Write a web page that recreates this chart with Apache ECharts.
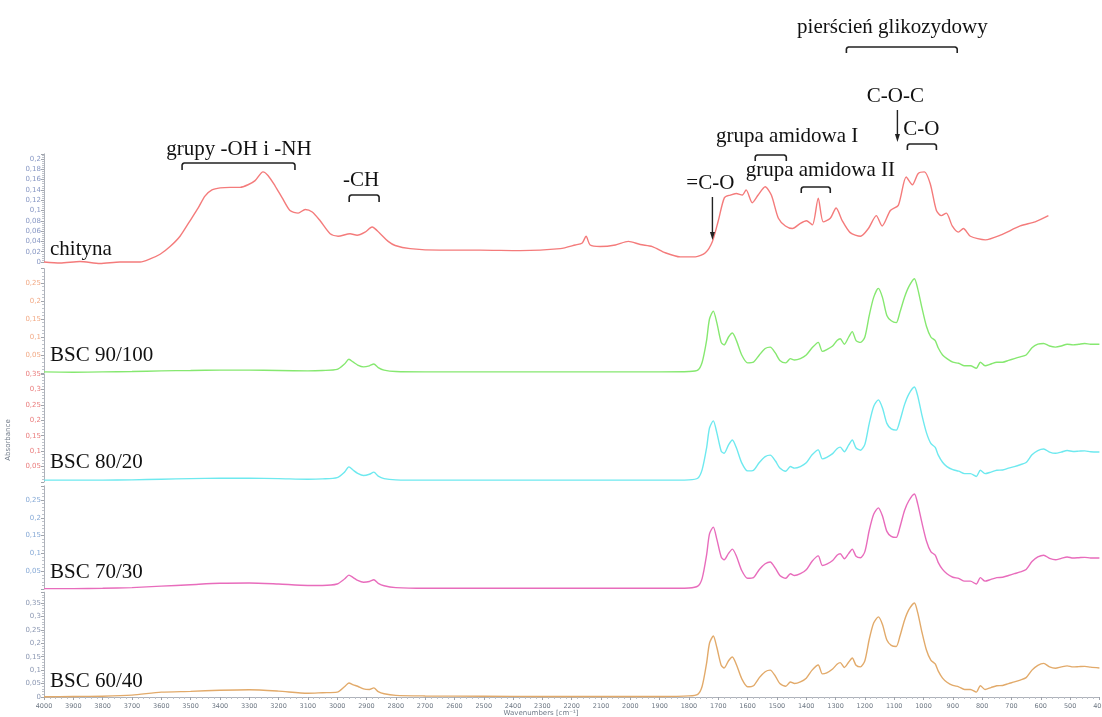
<!DOCTYPE html>
<html>
<head>
<meta charset="utf-8">
<script src="https://cdn.jsdelivr.net/npm/echarts/dist/echarts.min.js"></script>
<style>
  html, body { margin: 0; padding: 0; background: #ffffff; }
  #chart { width: 1102px; height: 717px; }
</style>
</head>
<body>
<div id="chart"></div>
<script>
// FTIR spectra: [wavenumber cm-1, absorbance]
const chityna = [
  [4000,0.000],[3945,-0.002],[3877,0.001],[3809,-0.003],[3741,0.000],[3672,0.000],[3638,0.006],
  [3604,0.015],[3570,0.030],[3536,0.050],[3502,0.080],[3474,0.105],[3451,0.128],[3427,0.140],
  [3399,0.144],[3365,0.145],[3331,0.145],[3304,0.150],[3280,0.158],[3253,0.175],[3236,0.168],
  [3212,0.148],[3188,0.125],[3161,0.100],[3133,0.095],[3109,0.102],[3085,0.097],[3058,0.080],
  [3024,0.055],[2997,0.050],[2956,0.055],[2932,0.052],[2905,0.058],[2881,0.068],[2853,0.055],
  [2826,0.040],[2802,0.032],[2751,0.026],[2649,0.023],[2512,0.023],[2376,0.022],[2239,0.026],
  [2188,0.033],[2164,0.037],[2151,0.050],[2137,0.033],[2103,0.030],[2051,0.033],[2007,0.040],
  [1966,0.034],[1925,0.030],[1881,0.018],[1830,0.010],[1778,0.010],[1744,0.018],[1720,0.040],
  [1700,0.080],[1679,0.125],[1659,0.130],[1639,0.133],[1618,0.130],[1605,0.140],[1584,0.115],
  [1564,0.130],[1540,0.146],[1519,0.130],[1495,0.085],[1471,0.070],[1447,0.065],[1420,0.075],
  [1399,0.080],[1379,0.072],[1359,0.124],[1342,0.078],[1318,0.085],[1298,0.105],[1277,0.080],
  [1250,0.057],[1215,0.050],[1188,0.065],[1161,0.090],[1141,0.070],[1113,0.100],[1086,0.110],
  [1059,0.165],[1038,0.150],[1018,0.172],[997,0.175],[977,0.152],[956,0.100],[939,0.090],
  [922,0.095],[902,0.070],[881,0.058],[864,0.065],[840,0.050],[789,0.043],[738,0.052],
  [670,0.070],[619,0.078],[574,0.090]
];

const bsc90_100 = [
  [4000,0.003],[3900,0.002],[3800,0.003],[3700,0.004],[3600,0.006],[3500,0.007],[3400,0.008],
  [3300,0.008],[3200,0.007],[3100,0.006],[3050,0.007],[3000,0.010],[2975,0.025],[2960,0.038],
  [2945,0.030],[2930,0.022],[2910,0.017],[2890,0.020],[2875,0.025],[2860,0.015],[2840,0.008],
  [2800,0.004],[2700,0.003],[2500,0.003],[2300,0.003],[2100,0.003],[1900,0.003],[1800,0.004],
  [1770,0.008],[1755,0.030],[1740,0.090],[1730,0.150],[1717,0.172],[1705,0.140],[1690,0.085],
  [1680,0.078],[1665,0.100],[1652,0.111],[1638,0.090],[1620,0.050],[1600,0.028],[1580,0.030],
  [1560,0.050],[1540,0.068],[1523,0.072],[1505,0.055],[1490,0.035],[1470,0.028],[1454,0.040],
  [1440,0.036],[1420,0.040],[1400,0.050],[1380,0.070],[1359,0.085],[1345,0.060],[1330,0.065],
  [1310,0.075],[1295,0.090],[1284,0.095],[1270,0.080],[1255,0.100],[1243,0.115],[1230,0.090],
  [1215,0.085],[1200,0.100],[1185,0.160],[1170,0.210],[1154,0.235],[1140,0.210],[1125,0.160],
  [1110,0.145],[1093,0.140],[1080,0.170],[1065,0.210],[1050,0.240],[1031,0.262],[1020,0.235],
  [1005,0.180],[990,0.130],[975,0.100],[960,0.090],[950,0.070],[935,0.050],[920,0.040],
  [900,0.030],[880,0.027],[860,0.020],[840,0.020],[820,0.013],[806,0.030],[790,0.020],
  [770,0.025],[750,0.030],[730,0.030],[710,0.035],[690,0.040],[670,0.045],[650,0.050],
  [630,0.070],[610,0.080],[590,0.082],[570,0.075],[550,0.072],[530,0.075],[510,0.080],
  [490,0.078],[470,0.080],[450,0.082],[430,0.080],[400,0.080]
];

const bsc80_20 = [
  [4000,0.006],[3900,0.006],[3800,0.006],[3700,0.007],[3600,0.009],[3500,0.011],[3400,0.012],
  [3300,0.012],[3200,0.011],[3100,0.009],[3050,0.010],[3000,0.014],[2975,0.032],[2960,0.049],
  [2945,0.038],[2930,0.028],[2910,0.021],[2890,0.025],[2875,0.032],[2860,0.019],[2840,0.011],
  [2800,0.007],[2700,0.006],[2500,0.006],[2300,0.006],[2100,0.006],[1900,0.006],[1800,0.007],
  [1770,0.012],[1755,0.040],[1740,0.110],[1730,0.175],[1717,0.198],[1705,0.160],[1690,0.100],
  [1680,0.093],[1665,0.120],[1652,0.136],[1638,0.110],[1620,0.062],[1600,0.036],[1580,0.038],
  [1560,0.063],[1540,0.082],[1523,0.087],[1505,0.068],[1490,0.045],[1470,0.035],[1454,0.050],
  [1440,0.045],[1420,0.050],[1400,0.062],[1380,0.088],[1359,0.104],[1345,0.075],[1330,0.080],
  [1310,0.092],[1295,0.108],[1284,0.113],[1270,0.098],[1255,0.120],[1243,0.136],[1230,0.110],
  [1215,0.103],[1200,0.122],[1185,0.190],[1170,0.245],[1154,0.266],[1140,0.240],[1125,0.190],
  [1110,0.172],[1093,0.168],[1080,0.200],[1065,0.250],[1050,0.285],[1031,0.308],[1020,0.280],
  [1005,0.215],[990,0.160],[975,0.125],[960,0.112],[950,0.088],[935,0.064],[920,0.050],
  [900,0.040],[880,0.035],[860,0.027],[840,0.027],[820,0.018],[806,0.038],[790,0.027],
  [770,0.032],[750,0.038],[730,0.039],[710,0.045],[690,0.050],[670,0.056],[650,0.063],
  [630,0.088],[610,0.102],[590,0.107],[570,0.097],[550,0.093],[530,0.097],[510,0.102],
  [490,0.099],[470,0.100],[450,0.101],[430,0.098],[400,0.097]
];

const bsc70_30 = [
  [4000,0.001],[3900,0.001],[3800,0.002],[3700,0.004],[3600,0.008],[3500,0.012],[3400,0.016],
  [3300,0.017],[3200,0.014],[3100,0.010],[3050,0.010],[3000,0.014],[2975,0.028],[2960,0.039],
  [2945,0.032],[2930,0.024],[2910,0.019],[2890,0.021],[2875,0.026],[2860,0.016],[2840,0.009],
  [2800,0.004],[2700,0.002],[2500,0.002],[2300,0.002],[2100,0.002],[1900,0.002],[1800,0.003],
  [1770,0.008],[1755,0.030],[1740,0.095],[1730,0.155],[1717,0.174],[1705,0.140],[1690,0.090],
  [1680,0.082],[1665,0.100],[1652,0.112],[1638,0.092],[1620,0.052],[1600,0.030],[1580,0.032],
  [1560,0.055],[1540,0.071],[1523,0.076],[1505,0.058],[1490,0.038],[1470,0.030],[1454,0.043],
  [1440,0.038],[1420,0.043],[1400,0.054],[1380,0.078],[1359,0.093],[1345,0.066],[1330,0.070],
  [1310,0.080],[1295,0.095],[1284,0.099],[1270,0.085],[1255,0.100],[1243,0.112],[1230,0.092],
  [1215,0.088],[1200,0.105],[1185,0.165],[1170,0.210],[1154,0.228],[1140,0.205],[1125,0.162],
  [1110,0.148],[1093,0.145],[1080,0.175],[1065,0.220],[1050,0.248],[1031,0.267],[1020,0.240],
  [1005,0.185],[990,0.135],[975,0.105],[960,0.095],[950,0.075],[935,0.055],[920,0.043],
  [900,0.033],[880,0.030],[860,0.022],[840,0.022],[820,0.014],[806,0.032],[790,0.022],
  [770,0.027],[750,0.032],[730,0.033],[710,0.038],[690,0.043],[670,0.048],[650,0.055],
  [630,0.077],[610,0.090],[590,0.095],[570,0.086],[550,0.082],[530,0.086],[510,0.090],
  [490,0.087],[470,0.088],[450,0.089],[430,0.087],[400,0.087]
];

const bsc60_40 = [
  [4000,0.001],[3900,0.002],[3800,0.003],[3700,0.007],[3600,0.018],[3500,0.021],[3400,0.025],
  [3300,0.027],[3200,0.022],[3100,0.014],[3050,0.016],[3000,0.018],[2975,0.038],[2960,0.052],
  [2945,0.045],[2930,0.040],[2910,0.030],[2890,0.028],[2875,0.034],[2860,0.020],[2840,0.012],
  [2800,0.006],[2700,0.004],[2500,0.003],[2300,0.002],[2100,0.002],[1900,0.002],[1800,0.004],
  [1770,0.010],[1755,0.040],[1740,0.125],[1730,0.200],[1717,0.227],[1705,0.185],[1690,0.118],
  [1680,0.108],[1665,0.135],[1652,0.149],[1638,0.120],[1620,0.068],[1600,0.038],[1580,0.042],
  [1560,0.072],[1540,0.094],[1523,0.100],[1505,0.077],[1490,0.050],[1470,0.040],[1454,0.056],
  [1440,0.050],[1420,0.056],[1400,0.070],[1380,0.100],[1359,0.119],[1345,0.086],[1330,0.090],
  [1310,0.104],[1295,0.122],[1284,0.128],[1270,0.110],[1255,0.130],[1243,0.145],[1230,0.118],
  [1215,0.112],[1200,0.135],[1185,0.215],[1170,0.275],[1154,0.298],[1140,0.270],[1125,0.212],
  [1110,0.192],[1093,0.188],[1080,0.228],[1065,0.285],[1050,0.325],[1031,0.350],[1020,0.315],
  [1005,0.240],[990,0.175],[975,0.137],[960,0.123],[950,0.097],[935,0.070],[920,0.055],
  [900,0.043],[880,0.038],[860,0.028],[840,0.028],[820,0.018],[806,0.042],[790,0.028],
  [770,0.035],[750,0.042],[730,0.043],[710,0.050],[690,0.056],[670,0.063],[650,0.072],
  [630,0.100],[610,0.118],[590,0.125],[570,0.112],[550,0.107],[530,0.112],[510,0.116],
  [490,0.112],[470,0.113],[450,0.114],[430,0.111],[400,0.108]
];

const sampleNames = ['chityna', 'BSC 90/100', 'BSC 80/20', 'BSC 70/30', 'BSC 60/40'];
const spectra = [chityna, bsc90_100, bsc80_20, bsc70_30, bsc60_40];
const axisMax = [0.21, 0.29, 0.35, 0.29, 0.39];
const axisStep = [0.02, 0.05, 0.05, 0.05, 0.05];
const showZeroLabel = [true, false, false, false, true];
const showTopLabel = [false, false, true, false, false];
const wnMin = 400, wnMax = 4000, wnStep = 100;

// band annotations: [text, wavenumber of text centre, text middle y]
const bandTexts = [
  ['pierścień glikozydowy', 1106, 27],
  ['C-O-C', 1096, 96],
  ['C-O', 1007, 129],
  ['grupa amidowa I', 1465, 136],
  ['grupa amidowa II', 1352, 170],
  ['=C-O', 1727, 183],
  ['grupy -OH i -NH', 3335, 149],
  ['-CH', 2918, 180]
];
// brackets: [wavenumber from, wavenumber to, top y, end y]
const bandBrackets = [
  [1263, 885, 47, 53],
  [1055, 956, 144, 150],
  [1574, 1468, 155, 161],
  [1417, 1318, 187, 193],
  [3529, 3144, 163, 170],
  [2959, 2857, 195, 202]
];
// arrows: [wavenumber, y start, y end]
const bandArrows = [
  [1089, 110, 142],
  [1720, 197, 240]
];

const lineColors = ['#f47b7b', '#86e870', '#6ee9ef', '#e86cbc', '#e2aa6a'];
const tickColors = ['#8797c4', '#f2aa86', '#ea7c7c', '#86a9d6', '#8b97b2'];
// plot layout: [top, height] of each stacked panel
const panels = [[153.85, 108.15], [268.6, 104.4], [374, 108], [485.8, 103.2], [592.2, 104.8]];

const chart = echarts.init(document.getElementById('chart'), null, { renderer: 'canvas' });

const fmt = (v, i) => {
  if (Math.abs(v) < 1e-9 && !showZeroLabel[i]) return '';
  return String(+v.toFixed(2)).replace('.', ',');
};

const grids = panels.map(p => ({
  left: 44, right: 2.6, top: p[0], height: p[1],
  containLabel: false, outerBoundsMode: 'none'
}));
const xAxes = panels.map((p, i) => {
  const last = i === panels.length - 1;
  return {
    type: 'value', gridIndex: i, min: wnMin, max: wnMax, interval: wnStep, inverse: true,
    show: last,
    axisLine: { show: last, onZero: false, lineStyle: { color: '#aeb2ba', width: 1 } },
    axisTick: { show: last, length: 3, lineStyle: { color: '#a0a4ac' } },
    minorTick: { show: last, splitNumber: 5, length: 2, lineStyle: { color: '#bcc0c8' } },
    axisLabel: {
      show: last, fontSize: 6.5, color: '#6e7884', margin: 6, fontFamily: 'DejaVu Sans',
      hideOverlap: false, formatter: v => String(Math.round(v))
    },
    splitLine: { show: false }
  };
});
const yAxes = panels.map((p, i) => ({
  type: 'value', gridIndex: i, min: 0, max: axisMax[i], interval: axisStep[i],
  axisLine: { show: true, lineStyle: { color: '#aeb2ba', width: 1 } },
  axisTick: { show: true, length: 3, lineStyle: { color: '#a0a4ac' } },
  minorTick: { show: true, splitNumber: 5, length: 2, lineStyle: { color: '#c0c4cc' } },
  axisLabel: {
    fontSize: 7, color: tickColors[i], margin: 3, fontFamily: 'DejaVu Sans',
    showMaxLabel: showTopLabel[i], hideOverlap: false, formatter: v => fmt(v, i)
  },
  splitLine: { show: false }
}));

const series = spectra.map((d, i) => ({
  name: sampleNames[i], type: 'line', xAxisIndex: i, yAxisIndex: i,
  data: d, showSymbol: false, smooth: 0.25, clip: false,
  lineStyle: { color: lineColors[i], width: 1.4 }, z: 3
}));

chart.setOption({
  backgroundColor: '#ffffff',
  animation: false,
  grid: grids, xAxis: xAxes, yAxis: yAxes, series: series
});

const serif = '21px "Liberation Serif", "Times New Roman", serif';
const px = wn => chart.convertToPixel({ xAxisIndex: 4 }, wn);
const graphics = [];

// sample names at the left of each panel
const nameMid = [249, 355, 462, 572, 681];
sampleNames.forEach((n, i) => {
  graphics.push({ type: 'text', z: 10, style: { text: n, x: 50, y: nameMid[i], font: serif, fill: '#111', verticalAlign: 'middle', align: 'left' } });
});
bandTexts.forEach(t => {
  graphics.push({ type: 'text', z: 10, style: { text: t[0], x: px(t[1]), y: t[2], font: serif, fill: '#111', verticalAlign: 'middle', align: 'center' } });
});
// band brackets with slightly rounded corners
bandBrackets.forEach(b => {
  const x1 = px(b[0]), x2 = px(b[1]), yt = b[2], ye = b[3];
  graphics.push({
    type: 'polyline', z: 10,
    shape: { points: [[x1, ye], [x1, yt + 2], [x1 + 0.7, yt + 0.7], [x1 + 2, yt], [x2 - 2, yt], [x2 - 0.7, yt + 0.7], [x2, yt + 2], [x2, ye]] },
    style: { stroke: '#222', lineWidth: 1.6, fill: null }
  });
});
bandArrows.forEach(a => {
  const x = px(a[0]);
  graphics.push({ type: 'line', z: 10, shape: { x1: x, y1: a[1], x2: x, y2: a[2] - 5 }, style: { stroke: '#222', lineWidth: 1.4 } });
  graphics.push({ type: 'polygon', z: 10, shape: { points: [[x - 2.5, a[2] - 8], [x + 2.5, a[2] - 8], [x, a[2]]] }, style: { fill: '#222' } });
});
// axis titles
graphics.push({ type: 'text', z: 10, rotation: Math.PI / 2, x: 8, y: 440, style: { text: 'Absorbance', font: '7px "DejaVu Sans"', fill: '#707a88', align: 'center', verticalAlign: 'middle' } });
graphics.push({ type: 'text', z: 10, style: { text: 'Wavenumbers [cm⁻¹]', x: 541, y: 713, font: '7px "DejaVu Sans"', fill: '#707a88', align: 'center', verticalAlign: 'middle' } });

chart.setOption({ graphic: graphics });
</script>
</body>
</html>
